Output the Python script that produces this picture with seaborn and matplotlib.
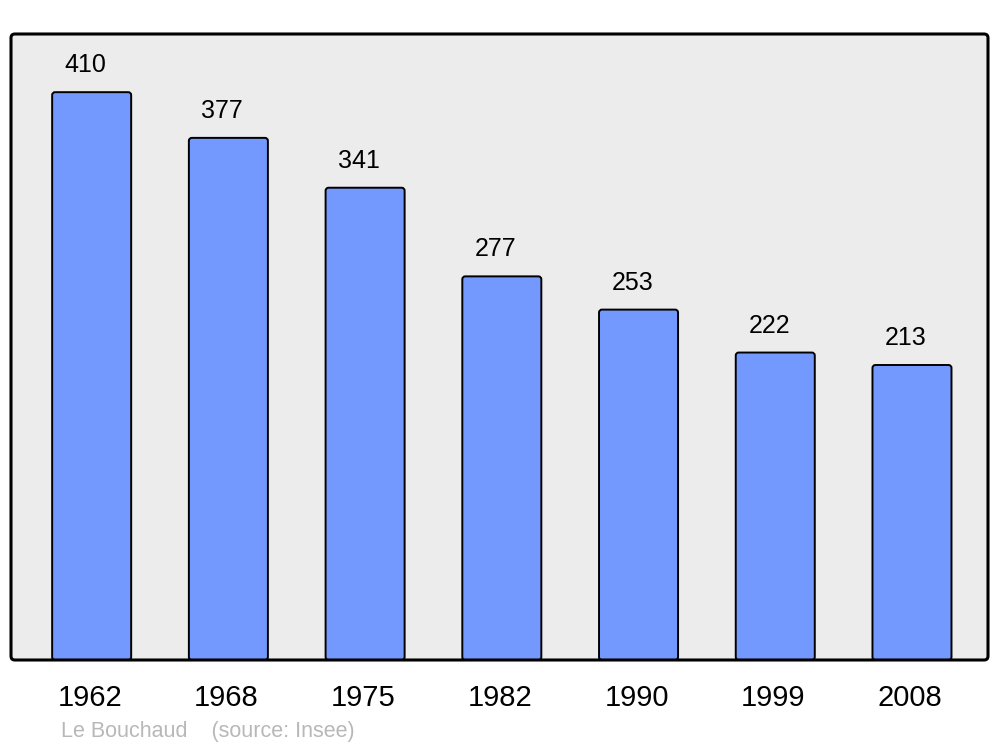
import numpy as np
import pandas as pd
import matplotlib
matplotlib.use("Agg")
import matplotlib.pyplot as plt
import matplotlib.transforms as mtransforms
from matplotlib.patches import FancyBboxPatch
import seaborn as sns

years = ['1962', '1968', '1975', '1982', '1990', '1999', '2008']
population = [410, 377, 341, 277, 253, 222, 213]
town = 'Le Bouchaud'
source = '(source: Insee)'

sns.set_style('white')
plt.rcParams['font.family'] = ['Liberation Sans', 'DejaVu Sans']
plt.rcParams['text.color'] = 'black'
plt.rcParams['xtick.color'] = 'black'

df = pd.DataFrame({'year': years, 'pop': population})

fig = plt.figure(figsize=(10, 7.47), dpi=100)
ax = fig.add_axes([0.011, 1 - 660 / 747, 0.977, 626 / 747])
ax.set_facecolor('#ececec')

sns.barplot(data=df, x='year', y='pop', ax=ax, color='#7399ff', saturation=1,
            width=0.578, edgecolor='black', linewidth=1.4)

ax.set_xlim(-0.59, 6.556)
ax.set_ylim(0, 452)

# swap plain bars for slightly rounded ones
px_x = 977 / (6.556 + 0.59)
px_y = 626 / 452
for p in list(ax.patches):
    x, y, w, h = p.get_x(), p.get_y(), p.get_width(), p.get_height()
    fb = FancyBboxPatch((x, y), w, h, boxstyle='round,pad=0,rounding_size=%f' % (3 / px_x),
                        mutation_aspect=px_x / px_y, facecolor=p.get_facecolor(),
                        edgecolor='black', linewidth=1.4, zorder=p.get_zorder())
    p.remove()
    ax.add_patch(fb)

for i, v in enumerate(population):
    ax.text(i - 0.045, v + 19.5, str(v), ha='center', va='center', fontsize=18)

ax.set_yticks([])
ax.set_xlabel('')
ax.set_ylabel('')
ax.tick_params(axis='x', length=0, labelsize=21, pad=17)
shift = mtransforms.ScaledTranslation(-2 / 100, 0, fig.dpi_scale_trans)
for lbl in ax.get_xticklabels():
    lbl.set_transform(lbl.get_transform() + shift)
for s in ax.spines.values():
    s.set_visible(False)

frame = FancyBboxPatch((0, 0), 1, 1, boxstyle='round,pad=0,rounding_size=0.004',
                       mutation_aspect=977 / 626, transform=ax.transAxes,
                       facecolor='none', edgecolor='black', linewidth=2.2,
                       clip_on=False, zorder=5)
ax.add_patch(frame)

fig.text(0.061, 1 - 731 / 747, town + '    ' + source, color='#b8b8b8',
         fontsize=15.5, ha='left', va='center')

fig.savefig('out.png', dpi=100)
